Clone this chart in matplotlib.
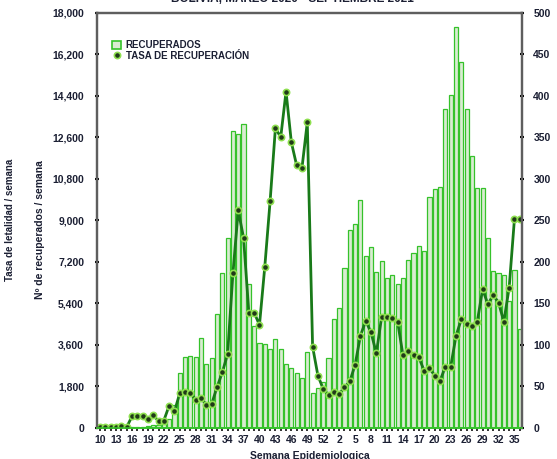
import numpy as np
import matplotlib.pyplot as plt
from matplotlib.patches import Patch
from matplotlib.lines import Line2D

plt.rcParams['font.family'] = ['Liberation Sans', 'DejaVu Sans']

# semanas epidemiologicas: 2020 (10-53) y 2021 (1-36)
semanas = list(range(10, 54)) + list(range(1, 37))

recuperados = [0, 0, 0, 5, 10, 10, 30, 40, 60, 80, 120, 150, 250, 400, 1000,
               2370, 3090, 3140, 3090, 3890, 2780, 3020, 4950, 6710, 8230,
               12850, 12760, 13180, 6240, 4400, 3690, 3640, 3410, 3870, 3410,
               2760, 2620, 2370, 2150, 3310, 1500, 1740, 2000, 3040,
               4720, 5220, 6930, 8560, 8850, 9900, 7440, 7830, 6750, 7250,
               6500, 6650, 6250, 6500, 7300, 7600, 7900, 7650, 10010, 10360,
               10450, 13830, 14410, 17390, 15850, 13830, 11780, 10420, 10420,
               8230, 6790, 6700, 6650, 5500, 6830, 4280]

tasa = [1, 1, 1, 1, 2, 1, 14, 14, 15, 11, 16, 8, 9, 27, 20, 42, 43, 42, 34, 36,
        28, 29, 49, 67, 89, 186, 262, 229, 139, 139, 124, 194, 273, 361, 350,
        405, 344, 316, 313, 368, 98, 63, 47, 40, 43, 41, 49, 56, 76, 111, 129,
        115, 90, 134, 134, 132, 128, 88, 93, 88, 85, 69, 72, 63, 57, 74, 74,
        111, 131, 125, 123, 128, 167, 149, 160, 151, 128, 169, 252, 252]

izq_ticks = [0, 1800, 3600, 5400, 7200, 9000, 10800, 12600, 14400, 16200, 18000]
der_ticks = [0, 50, 100, 150, 200, 250, 300, 350, 400, 450, 500]

txt = '#1b1f33'
x = np.arange(len(semanas))

fig = plt.figure(figsize=(5.57, 4.59), dpi=100)
ax = fig.add_axes([0.174, 0.0675, 0.763, 0.905])
ax2 = ax.twinx()

ax.bar(x, recuperados, width=0.78, color='#d9ecd2', edgecolor='#35c22a', linewidth=0.9)
ax2.plot(x, tasa, color='#197a19', linewidth=2, marker='o', markersize=4.5,
         markerfacecolor='#203a18', markeredgecolor='#8fe050', markeredgewidth=1.2)

ax.set_xlim(-0.6, 79.4)
ax.set_ylim(0, 18000)
ax2.set_ylim(0, 500)

ax.set_yticks(izq_ticks)
ax.set_yticklabels(['{:,}'.format(v) for v in izq_ticks])
ax2.set_yticks(der_ticks)
ax.set_xticks(x[::3])
ax.set_xticklabels([str(s) for s in semanas[::3]])
ax.set_xticks(x, minor=True)

for a in (ax, ax2):
    for s in ('left', 'right', 'top'):
        a.spines[s].set_color('#5e5e5e')
        a.spines[s].set_linewidth(1.6)
    a.spines['bottom'].set_color('#35c22a')
    a.spines['bottom'].set_linewidth(1.2)

ax.tick_params(axis='y', length=2.5, width=1.5, direction='inout', pad=8,
               labelsize=7.5, labelcolor=txt)
ax2.tick_params(axis='y', length=2.5, width=1.5, direction='inout', pad=7,
                labelsize=7.5, labelcolor=txt)
ax.tick_params(axis='x', which='major', length=2, width=1.3, pad=3,
               labelsize=7.5, labelcolor=txt, color='#222222')
ax.tick_params(axis='x', which='minor', length=2, width=1.3, color='#222222')
for lab in ax.get_yticklabels() + ax2.get_yticklabels() + ax.get_xticklabels():
    lab.set_fontweight('bold')

handles = [Patch(facecolor='#d9ecd2', edgecolor='#35c22a', linewidth=1.2),
           Line2D([], [], linestyle='none', marker='o', markersize=4.5,
                  markerfacecolor='#203a18', markeredgecolor='#8fe050', markeredgewidth=1.2)]
leg = ax.legend(handles, ['RECUPERADOS', 'TASA DE RECUPERACIÓN'], loc='upper left',
                bbox_to_anchor=(0.02, 0.95), frameon=False, fontsize=7,
                handlelength=0.9, handleheight=0.9, handletextpad=0.5,
                labelspacing=0.05, borderpad=0.2)
for t in leg.get_texts():
    t.set_fontweight('bold')
    t.set_color(txt)

fig.text(0.525, 1 + 1.5 / 459, 'BOLIVIA, MARZO 2020 - SEPTIEMBRE 2021', ha='center',
         va='center', fontsize=8.5, fontweight='bold', color=txt)
fig.text(310 / 557, 1 - 456 / 459, 'Semana Epidemiologica', ha='center', va='center',
         fontsize=7.5, fontweight='bold', color=txt)
fig.text(10 / 557, 1 - 220 / 459, 'Tasa de letalidad / semana', rotation=90,
         ha='center', va='center', fontsize=7, fontweight='bold', color=txt)
fig.text(40 / 557, 1 - 230 / 459, 'Nº de recuperados / semana', rotation=90,
         ha='center', va='center', fontsize=7.5, fontweight='bold', color=txt)

fig.savefig('out.png', dpi=100)
